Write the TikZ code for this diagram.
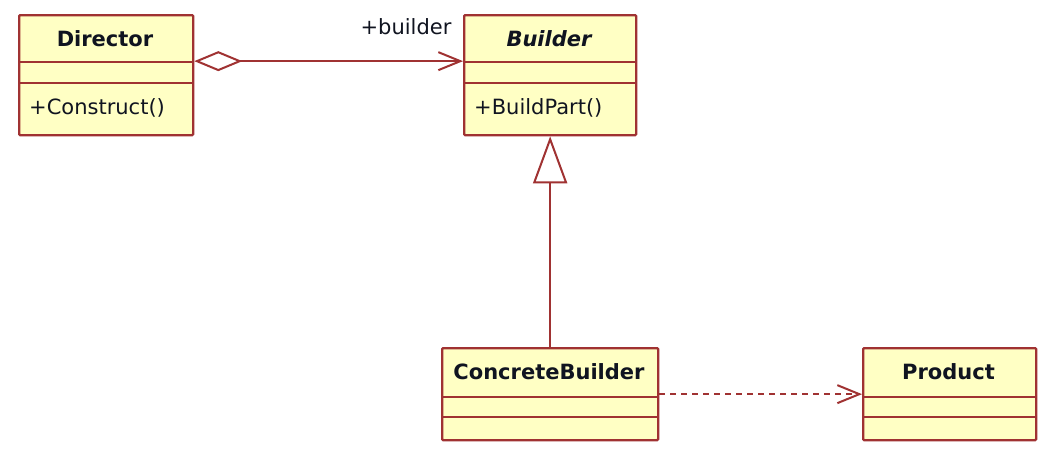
\documentclass[tikz,border=0pt]{standalone}
\usepackage{fontspec}
\setmainfont{DejaVu Sans}
\usetikzlibrary{arrows.meta}
\definecolor{umlborder}{RGB}{160,50,50}
\definecolor{umlfill}{RGB}{255,255,196}
\definecolor{umltext}{RGB}{16,20,32}
\tikzset{
  cls/.style={draw=umlborder, fill=umlfill, line width=2.3pt, rounded corners=1pt, inner sep=0pt, anchor=north west},
  divline/.style={draw=umlborder, line width=2.3pt},
  title/.style={font=\fontsize{21}{25}\selectfont\bfseries, text=umltext, inner sep=0pt},
  member/.style={font=\fontsize{21}{25}\selectfont, text=umltext, inner sep=0pt, anchor=west},
  conn/.style={draw=umlborder, line width=2pt},
}
\begin{document}
\begin{tikzpicture}[x=1pt,y=-1pt]
\useasboundingbox[fill=white] (0,0) rectangle (1063,455);
% Director
\node[cls, minimum width=174pt, minimum height=120pt] (dir) at (18,14) {};
\draw[divline] (18,62) -- (192,62);
\draw[divline] (18,83) -- (192,83);
\node[title] (dirT) at (105,39) {Director};
\node[member] (dirM) at (29,108) {+Construct()};
% Builder
\node[cls, minimum width=172pt, minimum height=120pt] (bld) at (463,14) {};
\draw[divline] (463,62) -- (635,62);
\draw[divline] (463,83) -- (635,83);
\node[title, font=\fontsize{21}{25}\selectfont\bfseries\itshape] (bldT) at (549,39) {Builder};
\node[member] (bldM) at (474,108) {+BuildPart()};
% ConcreteBuilder
\node[cls, minimum width=216pt, minimum height=92pt] (cb) at (441,347) {};
\draw[divline] (441,397) -- (657,397);
\draw[divline] (441,417) -- (657,417);
\node[title] (cbT) at (549,372) {ConcreteBuilder};
% Product
\node[cls, minimum width=173pt, minimum height=92pt] (prod) at (862,347) {};
\draw[divline] (862,397) -- (1035,397);
\draw[divline] (862,417) -- (1035,417);
\node[title] (prodT) at (948.5,372) {Product};
% connectors
\draw[conn, {Diamond[open, length=48pt, width=20pt, line width=2pt]}-{Straight Barb[length=22pt, width=18pt, line width=2pt]}]
  ([yshift=14pt]dir.east) -- ([yshift=14pt]bld.west);
\node[member, anchor=center] (lbl) at (406,27) {+builder};
\draw[conn, -{Triangle[open, length=47pt, width=34pt, line width=2pt, fill=white]}] (cb.north) -- (bld.south);
\draw[conn, dash pattern=on 6pt off 5pt, -{Straight Barb[length=22pt, width=18pt, line width=2pt]}] (cb.east) -- (prod.west);
\end{tikzpicture}
\end{document}
